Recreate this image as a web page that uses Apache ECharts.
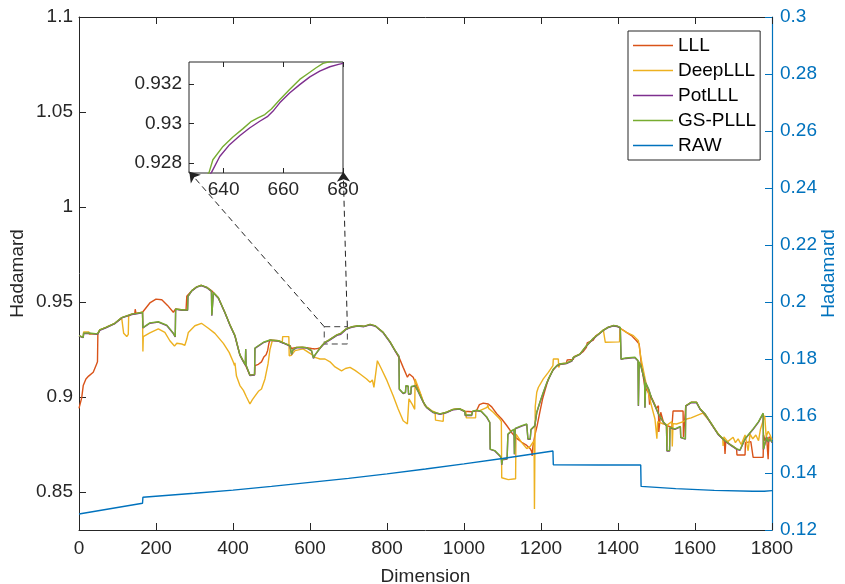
<!DOCTYPE html>
<html><head><meta charset="utf-8">
<script src="https://cdn.jsdelivr.net/npm/echarts@6/dist/echarts.min.js"></script>
<style>html,body{margin:0;padding:0;background:#fff}#c{width:845px;height:584px}</style>
</head><body><div id="c"></div>
<script>
// ---- data ----
const seriesNames = ['LLL', 'DeepLLL', 'PotLLL', 'GS-PLLL', 'RAW'];
const xTickLabels = [0, 200, 400, 600, 800, 1000, 1200, 1400, 1600, 1800];
const leftTicks = [0.85, 0.9, 0.95, 1, 1.05, 1.1];
const rightTicks = [0.12, 0.14, 0.16, 0.18, 0.2, 0.22, 0.24, 0.26, 0.28, 0.3];
const insetXTicks = [640, 660, 680];
const insetYTicks = [0.928, 0.93, 0.932];

const gsPLLL = [[0,0.9323],[11,0.9314],[12,0.9336],[26,0.9337],[27,0.9330],[48,0.9332],[54,0.9353],[70,0.9366],[93,0.9388],[111,0.9418],[137,0.9436],[150,0.9440],[165,0.9446],[166,0.9365],[184,0.9390],[206,0.9396],[228,0.9378],[245,0.9336],[250,0.9318],[251,0.9463],[270,0.9458],[282,0.9458],[283,0.9530],[293,0.9560],[306,0.9580],[318,0.9588],[332,0.9577],[344,0.9558],[345,0.9430],[348,0.9430],[349,0.9550],[362,0.9522],[379,0.9445],[392,0.9380],[405,0.9323],[413,0.9260],[418,0.9222],[425,0.9195],[432,0.9170],[433,0.9253],[434,0.9168],[444,0.9115],[456,0.9118],[457,0.9258],[479,0.9288],[496,0.9300],[518,0.9296],[531,0.9285],[548,0.9270],[552,0.9226],[556,0.9250],[565,0.9261],[580,0.9262],[591,0.9260],[604,0.9245],[609,0.9205],[613,0.9222],[626,0.9258],[633,0.9275],[640,0.9289],[650,0.9301],[660,0.9314],[670,0.9327],[680,0.9335],[695,0.9360],[710,0.9370],[725,0.9375],[740,0.9372],[756,0.9382],[770,0.9374],[790,0.9340],[808,0.9290],[820,0.9248],[831,0.9215],[832,0.9042],[842,0.9020],[848,0.9025],[849,0.9060],[855,0.9058],[856,0.9016],[862,0.9018],[863,0.9055],[873,0.9060],[881,0.9030],[894,0.8975],[903,0.8946],[920,0.8920],[938,0.8911],[955,0.8920],[972,0.8935],[989,0.8938],[1002,0.8925],[1003,0.8905],[1020,0.8905],[1022,0.8925],[1033,0.8930],[1045,0.8925],[1059,0.8895],[1067,0.8867],[1068,0.8726],[1080,0.8718],[1093,0.8692],[1097,0.8680],[1098,0.8645],[1100,0.8672],[1112,0.8676],[1114,0.8805],[1124,0.8823],[1130,0.8830],[1131,0.8700],[1133,0.8835],[1150,0.8849],[1163,0.8858],[1166,0.8780],[1172,0.8780],[1174,0.8830],[1184,0.8850],[1189,0.8920],[1197,0.8972],[1206,0.9025],[1215,0.9075],[1223,0.9110],[1232,0.9147],[1241,0.9165],[1249,0.9174],[1266,0.9178],[1280,0.9191],[1284,0.9209],[1301,0.9226],[1318,0.9270],[1336,0.9309],[1350,0.9332],[1362,0.9352],[1375,0.9368],[1388,0.9376],[1398,0.9373],[1406,0.9366],[1408,0.9200],[1420,0.9205],[1444,0.9209],[1452,0.9192],[1453,0.8955],[1455,0.9185],[1460,0.9160],[1466,0.9112],[1469,0.9090],[1470,0.8945],[1472,0.9075],[1480,0.9040],[1487,0.8995],[1496,0.8955],[1505,0.8912],[1518,0.8868],[1526,0.8850],[1527,0.8718],[1534,0.8718],[1535,0.8840],[1548,0.8832],[1562,0.8845],[1563,0.8788],[1575,0.8780],[1576,0.8954],[1590,0.8972],[1604,0.8972],[1613,0.8938],[1626,0.8911],[1643,0.8858],[1660,0.8805],[1678,0.8770],[1695,0.8745],[1708,0.8727],[1717,0.8722],[1730,0.8780],[1751,0.8832],[1765,0.8870],[1777,0.8915],[1778,0.8726],[1786,0.8790],[1790,0.8765],[1795,0.8780],[1800,0.8762]];

const potLLL = [[0,0.9321],[11,0.9312],[12,0.9334],[26,0.9335],[27,0.9328],[48,0.9330],[54,0.9351],[70,0.9364],[93,0.9386],[111,0.9416],[137,0.9434],[150,0.9438],[165,0.9444],[166,0.9363],[184,0.9388],[206,0.9394],[228,0.9376],[245,0.9334],[250,0.9316],[251,0.9461],[270,0.9456],[282,0.9456],[283,0.9528],[293,0.9558],[306,0.9578],[318,0.9586],[332,0.9575],[344,0.9556],[345,0.9428],[348,0.9428],[349,0.9548],[362,0.9520],[379,0.9443],[392,0.9378],[405,0.9321],[413,0.9258],[418,0.9220],[425,0.9193],[432,0.9168],[433,0.9251],[434,0.9166],[444,0.9113],[456,0.9116],[457,0.9256],[479,0.9286],[496,0.9298],[518,0.9294],[531,0.9283],[548,0.9268],[552,0.9224],[556,0.9248],[565,0.9259],[580,0.9260],[591,0.9258],[604,0.9243],[609,0.9203],[613,0.9220],[626,0.9256],[633,0.9272],[640,0.9286],[650,0.9298],[660,0.9311],[670,0.9324],[680,0.9330],[695,0.9358],[710,0.9368],[725,0.9373],[740,0.9370],[756,0.9380],[770,0.9372],[790,0.9338],[808,0.9288],[820,0.9246],[831,0.9213],[832,0.9040],[842,0.9018],[848,0.9023],[849,0.9058],[855,0.9056],[856,0.9014],[862,0.9016],[863,0.9053],[873,0.9058],[881,0.9028],[894,0.8973],[903,0.8944],[920,0.8918],[938,0.8909],[955,0.8918],[972,0.8933],[989,0.8936],[1002,0.8923],[1003,0.8903],[1020,0.8903],[1022,0.8923],[1033,0.8928],[1045,0.8923],[1059,0.8893],[1067,0.8865],[1068,0.8724],[1080,0.8716],[1093,0.8690],[1097,0.8678],[1098,0.8643],[1100,0.8670],[1112,0.8674],[1114,0.8803],[1124,0.8821],[1130,0.8828],[1131,0.8698],[1133,0.8833],[1150,0.8847],[1163,0.8856],[1166,0.8778],[1172,0.8778],[1174,0.8828],[1184,0.8848],[1189,0.8918],[1197,0.8970],[1206,0.9023],[1215,0.9073],[1223,0.9108],[1232,0.9145],[1241,0.9163],[1249,0.9172],[1266,0.9176],[1280,0.9189],[1284,0.9207],[1301,0.9224],[1318,0.9268],[1336,0.9307],[1350,0.9330],[1362,0.9350],[1375,0.9366],[1388,0.9374],[1398,0.9371],[1406,0.9364],[1408,0.9198],[1420,0.9203],[1444,0.9207],[1452,0.9190],[1453,0.8953],[1455,0.9183],[1460,0.9158],[1466,0.9110],[1469,0.9088],[1470,0.8943],[1472,0.9073],[1480,0.9038],[1487,0.8993],[1496,0.8953],[1505,0.8910],[1518,0.8866],[1526,0.8848],[1527,0.8716],[1534,0.8716],[1535,0.8838],[1548,0.8830],[1562,0.8843],[1563,0.8786],[1575,0.8778],[1576,0.8952],[1590,0.8970],[1604,0.8970],[1613,0.8936],[1626,0.8909],[1643,0.8856],[1660,0.8803],[1678,0.8768],[1695,0.8743],[1708,0.8725],[1717,0.8720],[1730,0.8778],[1751,0.8830],[1765,0.8868],[1777,0.8913],[1778,0.8724],[1786,0.8788],[1790,0.8763],[1795,0.8778],[1800,0.8760]];

const lll = [[0,0.8940],[4,0.8950],[7,0.8995],[11,0.9060],[18,0.9095],[25,0.9110],[30,0.9105],[37,0.9130],[45,0.9170],[48,0.9185],[49,0.9332],[54,0.9353],[70,0.9366],[93,0.9388],[111,0.9418],[137,0.9436],[145,0.9440],[146,0.9462],[148,0.9440],[165,0.9446],[170,0.9455],[184,0.9495],[200,0.9515],[215,0.9512],[230,0.9482],[245,0.9446],[250,0.9440],[251,0.9463],[270,0.9458],[278,0.9458],[280,0.9530],[293,0.9560],[306,0.9580],[318,0.9588],[332,0.9577],[344,0.9560],[362,0.9522],[379,0.9445],[392,0.9380],[405,0.9323],[408,0.9300],[410,0.9310],[413,0.9260],[418,0.9222],[425,0.9195],[432,0.9170],[444,0.9115],[456,0.9118],[457,0.9165],[466,0.9172],[474,0.9185],[480,0.9210],[486,0.9222],[490,0.9245],[493,0.9280],[496,0.9300],[518,0.9296],[531,0.9285],[548,0.9270],[552,0.9255],[565,0.9261],[580,0.9262],[591,0.9260],[604,0.9255],[613,0.9253],[620,0.9255],[626,0.9258],[633,0.9275],[640,0.9289],[650,0.9301],[660,0.9314],[670,0.9327],[680,0.9335],[695,0.9360],[710,0.9370],[725,0.9375],[740,0.9372],[756,0.9382],[770,0.9374],[790,0.9340],[808,0.9290],[820,0.9248],[832,0.9205],[842,0.9156],[853,0.9104],[858,0.9121],[868,0.9104],[877,0.9060],[886,0.9020],[894,0.8975],[903,0.8946],[920,0.8920],[938,0.8911],[955,0.8920],[972,0.8935],[989,0.8938],[1002,0.8925],[1020,0.8922],[1033,0.8930],[1040,0.8960],[1050,0.8968],[1063,0.8963],[1072,0.8948],[1085,0.8912],[1098,0.8884],[1111,0.8850],[1124,0.8812],[1137,0.8782],[1150,0.8762],[1163,0.8745],[1172,0.8728],[1176,0.8712],[1177,0.8690],[1179,0.8740],[1184,0.8798],[1190,0.8849],[1197,0.8920],[1204,0.8989],[1210,0.9033],[1219,0.9095],[1230,0.9138],[1241,0.9165],[1249,0.9174],[1266,0.9178],[1268,0.9195],[1284,0.9198],[1286,0.9212],[1301,0.9226],[1310,0.9240],[1318,0.9262],[1320,0.9285],[1336,0.9300],[1340,0.9298],[1342,0.9322],[1350,0.9332],[1362,0.9352],[1375,0.9368],[1388,0.9376],[1398,0.9373],[1409,0.9358],[1422,0.9340],[1435,0.9323],[1448,0.9296],[1455,0.9279],[1461,0.9165],[1470,0.9051],[1480,0.9020],[1482,0.8960],[1484,0.9010],[1490,0.8985],[1500,0.8940],[1505,0.8954],[1506,0.8816],[1510,0.8816],[1511,0.8920],[1518,0.8868],[1526,0.8850],[1540,0.8840],[1543,0.8926],[1569,0.8926],[1570,0.8790],[1575,0.8780],[1576,0.8954],[1590,0.8972],[1604,0.8972],[1613,0.8938],[1626,0.8911],[1643,0.8858],[1660,0.8805],[1676,0.8772],[1678,0.8700],[1680,0.8768],[1695,0.8745],[1708,0.8727],[1709,0.8695],[1730,0.8695],[1731,0.8760],[1745,0.8765],[1751,0.8682],[1777,0.8682],[1778,0.8800],[1782,0.8770],[1786,0.8790],[1790,0.8672],[1792,0.8790],[1800,0.8779]];

const deepLLL = [[0,0.9323],[11,0.9314],[12,0.9342],[26,0.9342],[27,0.9330],[48,0.9332],[54,0.9353],[70,0.9366],[93,0.9388],[111,0.9414],[115,0.9418],[116,0.9335],[124,0.9318],[128,0.9330],[129,0.9425],[137,0.9436],[150,0.9440],[165,0.9446],[166,0.9240],[167,0.9318],[184,0.9337],[206,0.9358],[223,0.9340],[236,0.9296],[248,0.9268],[254,0.9283],[267,0.9279],[275,0.9272],[280,0.9305],[284,0.9340],[301,0.9375],[318,0.9388],[336,0.9362],[353,0.9335],[375,0.9282],[390,0.9235],[401,0.9183],[404,0.9165],[405,0.9180],[409,0.9110],[418,0.9060],[427,0.9035],[435,0.9000],[444,0.8963],[450,0.8985],[457,0.9005],[466,0.9030],[474,0.9042],[483,0.9095],[491,0.9174],[496,0.9250],[502,0.9296],[518,0.9296],[528,0.9287],[529,0.9318],[545,0.9318],[546,0.9217],[552,0.9220],[561,0.9244],[582,0.9253],[600,0.9230],[613,0.9209],[626,0.9200],[639,0.9200],[652,0.9185],[665,0.9158],[682,0.9138],[692,0.9150],[704,0.9156],[717,0.9140],[730,0.9121],[747,0.9095],[756,0.9077],[760,0.9070],[762,0.9090],[766,0.9051],[775,0.9191],[785,0.9150],[800,0.9086],[816,0.9007],[829,0.8937],[842,0.8875],[853,0.8858],[856,0.8862],[857,0.8990],[866,0.8960],[872,0.8935],[873,0.9095],[885,0.9030],[898,0.8954],[905,0.8946],[918,0.8925],[925,0.8922],[926,0.8878],[946,0.8872],[947,0.8915],[955,0.8920],[972,0.8935],[989,0.8938],[1005,0.8922],[1006,0.8890],[1030,0.8890],[1031,0.8928],[1041,0.8928],[1060,0.8946],[1062,0.8958],[1064,0.8940],[1076,0.8920],[1093,0.8884],[1097,0.8872],[1098,0.8575],[1115,0.8565],[1134,0.8570],[1135,0.8805],[1150,0.8760],[1163,0.8728],[1172,0.8740],[1182,0.8770],[1183,0.8410],[1185,0.8950],[1189,0.9025],[1193,0.9050],[1206,0.9095],[1219,0.9130],[1231,0.9165],[1232,0.9200],[1245,0.9200],[1246,0.9155],[1250,0.9175],[1266,0.9178],[1280,0.9191],[1284,0.9209],[1301,0.9226],[1318,0.9270],[1336,0.9309],[1350,0.9332],[1362,0.9352],[1366,0.9358],[1367,0.9288],[1404,0.9290],[1405,0.9362],[1422,0.9340],[1440,0.9323],[1453,0.9296],[1460,0.9200],[1474,0.9060],[1487,0.8954],[1496,0.8884],[1500,0.8880],[1501,0.8780],[1503,0.8870],[1518,0.8858],[1526,0.8855],[1527,0.8740],[1529,0.8855],[1540,0.8870],[1541,0.8740],[1543,0.8860],[1552,0.8858],[1570,0.8870],[1578,0.8884],[1590,0.8890],[1604,0.8902],[1620,0.8915],[1635,0.8880],[1650,0.8835],[1665,0.8795],[1672,0.8780],[1673,0.8742],[1675,0.8790],[1685,0.8765],[1699,0.8788],[1705,0.8760],[1712,0.8780],[1720,0.8750],[1730,0.8800],[1738,0.8717],[1743,0.8805],[1750,0.8780],[1758,0.8800],[1765,0.8770],[1770,0.8830],[1781,0.8902],[1785,0.8790],[1790,0.8820],[1795,0.8800],[1800,0.8775]];

const raw = [[0,0.1256],[165,0.1294],[166,0.1315],[300,0.1329],[400,0.1340],[500,0.1353],[600,0.1367],[700,0.1381],[800,0.1397],[900,0.1414],[1000,0.1432],[1100,0.1451],[1231,0.1477],[1232,0.1429],[1350,0.1428],[1459,0.1428],[1460,0.1353],[1550,0.1345],[1650,0.1339],[1750,0.1336],[1780,0.1336],[1800,0.1338]];

// inset (zoomed view of dimensions ~630-680)
const insetGS = [[633,0.9271],[635.1,0.92752],[636.4,0.92817],[639.8,0.92884],[643.1,0.92932],[646.5,0.92974],[649.3,0.93011],[651.5,0.93028],[653.8,0.93045],[656,0.93073],[658.8,0.9312],[662.1,0.93171],[665.5,0.93222],[668.3,0.93252],[671,0.93281],[673.3,0.93303],[676,0.93314],[680,0.9334]];
const insetPot = [[634,0.9272],[635.9,0.92752],[638.7,0.92833],[642,0.92893],[645.4,0.92938],[648.7,0.92977],[652.1,0.93011],[654.8,0.93036],[656.5,0.93061],[658.8,0.93104],[662.1,0.93154],[665.5,0.93196],[668.9,0.93235],[672.2,0.93264],[675.6,0.93286],[678.5,0.93298],[680,0.93303]];

// zoom box (data coords) and inset anchor corners (data coords of main axes)
const zoomBox = {x0: 637, x1: 697, y0: 0.9279, y1: 0.937};
const insetAnchors = [[286.5, 1.0186], [686.4, 1.0186]];

// ---- style ----
const C = {LLL:'#D95319', DeepLLL:'#EDB120', PotLLL:'#7E2F8E', 'GS-PLLL':'#77AC30', RAW:'#0072BD'};
const AX = '#262626';
const FONT = '"Liberation Sans", Arial, Helvetica, sans-serif';
const LW = 1.4;
const TICK_FS = 19;
const plain = v => String(v);

function lineSeries(name, data, xi, yi, extra) {
  return Object.assign({
    name: name, type: 'line', data: data, xAxisIndex: xi, yAxisIndex: yi,
    symbol: 'none', showSymbol: false, smooth: false,
    lineStyle: {color: C[name], width: LW}, itemStyle: {color: C[name]},
    emphasis: {disabled: true}, silent: true
  }, extra || {});
}

const chart = echarts.init(document.getElementById('c'), null, {renderer: 'canvas'});
const option = {
  animation: false,
  backgroundColor: '#fff',
  textStyle: {fontFamily: FONT},
  legend: {
    data: seriesNames.map(n => ({name: n, icon: 'rect'})),
    orient: 'vertical', left: 628, top: 31,
    itemWidth: 40, itemHeight: 1.6, itemGap: 6, padding: [5, 4, 5, 5],
    borderColor: AX, borderWidth: 1, backgroundColor: '#fff',
    selectedMode: false,
    textStyle: {fontSize: 19, color: '#000', fontFamily: FONT, lineHeight: 19}
  },
  grid: [
    {left: 79, right: 73, top: 17, bottom: 54, containLabel: false, outerBoundsMode: 'none'},
    {left: 189, top: 62, width: 154, height: 111, containLabel: false, outerBoundsMode: 'none',
     show: true, borderColor: AX, borderWidth: 1, backgroundColor: '#fff'}
  ],
  xAxis: [
    {gridIndex: 0, type: 'value', min: 0, max: 1800, interval: 200, position: 'bottom',
     name: 'Dimension', nameLocation: 'middle', nameGap: 37, nameMoveOverlap: false,
     nameTextStyle: {fontSize: 19, color: AX},
     axisLine: {show: true, onZero: false, lineStyle: {color: AX, width: 1}},
     axisTick: {show: true, inside: true, length: 7, lineStyle: {color: AX}},
     axisLabel: {show: true, fontSize: TICK_FS, color: AX, margin: 9, customValues: xTickLabels, formatter: plain},
     splitLine: {show: false}},
    {gridIndex: 0, type: 'value', min: 0, max: 1800, interval: 200, position: 'top',
     axisLine: {show: true, onZero: false, lineStyle: {color: AX, width: 1}},
     axisTick: {show: true, inside: true, length: 7, lineStyle: {color: AX}},
     axisLabel: {show: false}, splitLine: {show: false}},
    {gridIndex: 1, type: 'value', min: 628.4, max: 680, position: 'bottom',
     axisLine: {show: false, onZero: false},
     axisTick: {show: true, inside: true, length: 5, customValues: insetXTicks, lineStyle: {color: AX}},
     axisLabel: {show: true, fontSize: 19, color: AX, margin: 7, customValues: insetXTicks, formatter: plain},
     splitLine: {show: false}},
    {gridIndex: 1, type: 'value', min: 628.4, max: 680, position: 'top',
     axisLine: {show: false, onZero: false},
     axisTick: {show: true, inside: true, length: 5, customValues: insetXTicks, lineStyle: {color: AX}},
     axisLabel: {show: false}, splitLine: {show: false}}
  ],
  yAxis: [
    {gridIndex: 0, type: 'value', min: 0.83, max: 1.1, position: 'left',
     name: 'Hadamard', nameLocation: 'middle', nameGap: 52, nameMoveOverlap: false,
     nameTextStyle: {fontSize: 19, color: AX},
     axisLine: {show: true, onZero: false, lineStyle: {color: AX, width: 1}},
     axisTick: {show: true, inside: true, length: 7, customValues: leftTicks, lineStyle: {color: AX}},
     axisLabel: {show: true, fontSize: TICK_FS, color: AX, margin: 6, customValues: leftTicks},
     splitLine: {show: false}},
    {gridIndex: 0, type: 'value', min: 0.12, max: 0.3, position: 'right',
     name: 'Hadamard', nameLocation: 'middle', nameGap: 47, nameMoveOverlap: false,
     nameTextStyle: {fontSize: 19, color: C.RAW},
     axisLine: {show: true, onZero: false, lineStyle: {color: C.RAW, width: 1.2}},
     axisTick: {show: true, inside: true, length: 7, customValues: rightTicks, lineStyle: {color: C.RAW}},
     axisLabel: {show: true, fontSize: TICK_FS, color: C.RAW, margin: 8, customValues: rightTicks},
     splitLine: {show: false}},
    {gridIndex: 1, type: 'value', min: 0.9275, max: 0.9331, position: 'left',
     axisLine: {show: false, onZero: false},
     axisTick: {show: true, inside: true, length: 5, customValues: insetYTicks, lineStyle: {color: AX}},
     axisLabel: {show: true, fontSize: 19, color: AX, margin: 7, customValues: insetYTicks},
     splitLine: {show: false}}
  ],
  series: [
    lineSeries('LLL', lll, 0, 0),
    lineSeries('DeepLLL', deepLLL, 0, 0),
    lineSeries('PotLLL', potLLL, 0, 0),
    lineSeries('GS-PLLL', gsPLLL, 0, 0, {
      markArea: {
        silent: true, label: {show: false},
        itemStyle: {color: 'rgba(0,0,0,0)', borderColor: '#404040', borderWidth: 1, borderType: [6, 4]},
        data: [[{xAxis: zoomBox.x0, yAxis: zoomBox.y1}, {xAxis: zoomBox.x1, yAxis: zoomBox.y0}]]
      },
      markLine: {
        silent: true, symbol: ['none', 'arrow'], symbolSize: 10, label: {show: false},
        lineStyle: {color: '#222', width: 1, type: [6, 4]},
        data: [
          [{coord: [zoomBox.x0, zoomBox.y1]}, {coord: insetAnchors[0]}],
          [{coord: [zoomBox.x1, zoomBox.y1]}, {coord: insetAnchors[1]}]
        ]
      }
    }),
    lineSeries('RAW', raw, 0, 1),
    lineSeries('PotLLL', insetPot, 2, 2, {z: 6}),
    lineSeries('GS-PLLL', insetGS, 2, 2, {z: 6})
  ]
};
chart.setOption(option);
</script>
</body></html>
